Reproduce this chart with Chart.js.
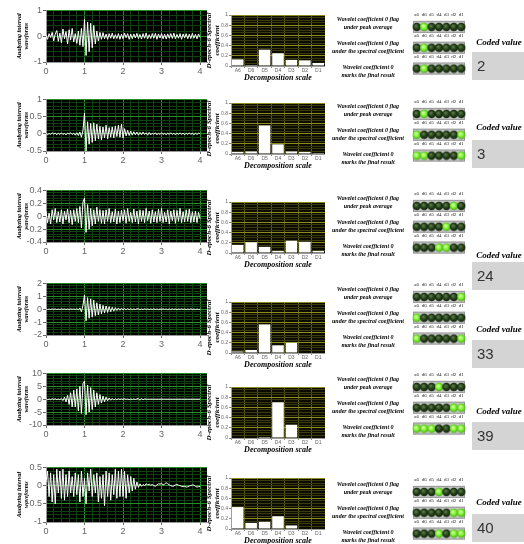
<!DOCTYPE html>
<html>
<head>
<meta charset="utf-8">
<script src="https://cdn.jsdelivr.net/npm/chart.js@4.4.1/dist/chart.umd.min.js"></script>
<style>
  body { margin: 0; background: #fff; width: 524px; height: 544px; overflow: hidden; position: relative; font-family: Arial, "Liberation Sans", sans-serif; }
  canvas { position: absolute; }
  .flag { position: absolute; left: 326px; width: 84px; text-align: center; font: italic bold 6px "Liberation Serif", serif; line-height: 8px; color: #000; white-space: nowrap; }
  .coded { position: absolute; left: 474px; width: 50px; text-align: center; font: italic bold 9px "Liberation Serif", serif; line-height: 10px; white-space: nowrap; }
  .box { position: absolute; left: 472px; width: 52px; height: 28px; background: #d4d4d4; font: 15px Arial, sans-serif; color: #333; line-height: 28px; padding-left: 5px; box-sizing: border-box; }
</style>
</head>
<body>
<script>
// waveform samples, one every 0.04 s from 0 to 4 s
const timeStep = 0.04;

const wave1 = [0.05,-0.12,0.1,-0.05,0.15,-0.18,0.08,0.22,-0.2,0.12,
  -0.25,0.28,-0.1,0.18,-0.3,0.25,-0.15,0.3,-0.22,0.1,
  -0.28,0.2,-0.35,0.3,-0.4,0.65,-0.75,0.55,-0.6,0.5,
  -0.45,0.42,-0.3,0.2,-0.18,0.15,-0.12,0.14,-0.1,0.08,
  -0.12,0.1,-0.08,0.12,-0.1,0.06,-0.09,0.1,-0.12,0.08,
  -0.1,0.12,-0.06,0.1,-0.12,0.08,-0.1,0.09,-0.07,0.11,
  -0.09,0.07,-0.11,0.1,-0.08,0.12,-0.1,0.06,-0.09,0.1,
  -0.08,0.11,-0.12,0.09,-0.07,0.1,-0.1,0.08,-0.11,0.09,
  -0.08,0.1,-0.09,0.12,-0.1,0.07,-0.08,0.1,-0.12,0.09,
  -0.07,0.1,-0.1,0.08,-0.09,0.11,-0.08,0.07,-0.1,0.09,-0.05];

const wave2 = [0.02,-0.03,0.01,-0.02,0.03,-0.01,0.02,-0.03,0.02,-0.02,
  0.03,-0.02,0.01,-0.03,0.02,-0.01,0.03,-0.02,0.02,-0.04,
  0.03,-0.05,0.05,-0.1,0.1,0.6,-0.5,0.35,-0.3,0.3,
  -0.25,0.32,-0.2,0.28,-0.15,0.22,-0.18,0.2,-0.12,0.25,
  -0.15,0.18,-0.1,0.2,-0.12,0.22,-0.08,0.25,-0.1,0.28,
  -0.12,0.15,-0.06,0.1,-0.05,0.08,-0.04,0.06,-0.03,0.05,
  -0.04,0.04,-0.03,0.05,-0.02,0.03,-0.04,0.04,-0.03,0.02,
  -0.02,0.03,-0.03,0.02,-0.02,0.03,-0.02,0.02,-0.03,0.02,
  -0.02,0.03,-0.02,0.02,-0.03,0.02,-0.02,0.03,-0.02,0.02,
  -0.03,0.02,-0.02,0.03,-0.02,0.02,-0.03,0.02,-0.02,0.02,0];

const wave3 = [0.08,-0.1,0.05,-0.12,0.1,-0.06,0.12,-0.1,0.07,-0.09,
  0.1,-0.12,0.08,-0.06,0.11,-0.1,0.09,-0.13,0.1,-0.08,
  0.12,-0.1,0.15,-0.18,0.22,0.28,-0.25,0.18,-0.2,0.12,
  -0.15,0.1,-0.12,0.14,-0.08,0.1,-0.11,0.09,-0.12,0.1,
  -0.08,0.12,-0.1,0.07,-0.09,0.11,-0.12,0.08,-0.1,0.09,
  -0.07,0.1,-0.11,0.12,-0.08,0.06,-0.1,0.11,-0.09,0.08,
  -0.12,0.1,-0.08,0.09,-0.1,0.12,-0.07,0.08,-0.11,0.1,
  -0.09,0.07,-0.1,0.11,-0.08,0.12,-0.1,0.06,-0.09,0.1,
  -0.12,0.08,-0.07,0.1,-0.11,0.09,-0.08,0.12,-0.1,0.07,
  -0.09,0.1,-0.08,0.11,-0.1,0.07,-0.09,0.08,-0.1,0.06,-0.04];

const wave4 = [0.02,-0.02,0.01,-0.02,0.02,-0.01,0.02,-0.02,0.01,-0.02,
  0.02,-0.01,0.02,-0.02,0.01,-0.02,0.02,-0.01,0.02,-0.02,
  0.03,-0.05,0.1,-0.2,0.3,1.1,-0.9,0.9,-0.7,0.8,
  -0.6,0.7,-0.5,0.5,-0.45,0.4,-0.35,0.3,-0.3,0.25,
  -0.25,0.2,-0.2,0.15,-0.15,0.12,-0.1,0.1,-0.08,0.08,
  -0.06,0.06,-0.05,0.05,-0.04,0.04,-0.04,0.03,-0.03,0.03,
  0.03,-0.03,0.02,-0.03,0.03,-0.02,0.02,-0.03,0.02,-0.02,
  0.03,-0.02,0.02,-0.03,0.02,-0.02,0.03,-0.02,0.02,-0.03,
  0.02,-0.02,0.03,-0.02,0.02,-0.03,0.02,-0.02,0.03,-0.02,
  0.02,-0.03,0.02,-0.02,0.03,-0.02,0.02,-0.03,0.02,-0.02,0];

const wave5 = [0.2,-0.2,0.1,-0.2,0.2,-0.1,0.2,-0.2,0.1,-0.2,
  0.3,-0.5,0.8,-1,1.5,-2,2.5,-3,3.5,-3,
  4,-4.5,5,-5.5,6,7,-6,5.5,-5,4.5,
  -4,3.5,-3,2.5,-2,1.8,-1.5,1.2,-1,0.8,
  -0.6,0.5,-0.4,0.3,-0.3,0.2,-0.2,0.2,-0.1,0.1,
  -0.1,0.2,-0.1,0.1,-0.2,0.1,-0.1,0.1,-0.1,0.1,
  0.3,-0.4,0.3,-0.2,0.1,0,0,0,0,0,
  0,0,0,0,0,0,0,0,0,0,
  0,0,0,0,0,0,0,0,0,0,
  0,0,0,0,0,0,0,0,0,0,0];

const wave6 = [0.1,0.4,-0.3,0.35,-0.45,0.3,-0.5,0.45,-0.2,0.4,
  -0.35,0.45,-0.4,0.3,-0.3,0.4,-0.2,0.25,-0.3,0.35,
  -0.25,0.3,-0.45,0.4,-0.3,0.2,-0.5,0.35,-0.15,0.45,
  -0.3,0.3,-0.2,0.35,-0.45,0.25,-0.35,0.3,-0.55,0.4,
  -0.3,0.35,-0.4,0.3,-0.25,0.45,-0.35,0.4,-0.3,0.45,
  -0.3,0.4,-0.35,0.3,-0.2,0.25,-0.15,0.2,-0.1,0.1,
  -0.05,0.05,-0.02,0.03,0,0.05,0.02,0.04,0.01,0.03,
  0,-0.02,0.02,0.05,0.04,0.06,0.02,0.04,0.08,0.05,
  0.02,0,-0.02,-0.01,0.02,0.03,0.01,0,-0.02,-0.03,
  -0.02,-0.04,-0.03,-0.01,0,0.02,0.01,-0.02,-0.04,-0.03,-0.02];

// y axis range and label step of each waveform panel
const waveMin = [-1, -0.5, -0.4, -2, -10, -1];
const waveMax = [1, 1, 0.4, 2, 10, 0.5];
const waveMajor = [1, 0.5, 0.2, 1, 5, 0.5];

// spectral coefficient per decomposition scale
const scaleLabels = ['A6', 'D6', 'D5', 'D4', 'D3', 'D2', 'D1'];
const spec1 = [0.13, 0.02, 0.32, 0.25, 0.12, 0.11, 0.06];
const spec2 = [0.04, 0.05, 0.56, 0.19, 0.05, 0.04, 0.02];
const spec3 = [0.16, 0.21, 0.12, 0.04, 0.24, 0.22, 0.04];
const spec4 = [0.03, 0.06, 0.56, 0.15, 0.20, 0.01, 0.00];
const spec5 = [0.01, 0.01, 0.02, 0.70, 0.26, 0.00, 0.00];
const spec6 = [0.43, 0.12, 0.14, 0.25, 0.07, 0.00, 0.00];

// LED flags (a6 d6 d5 d4 d3 d2 d1)
const ledLabels = ['a6', 'd6', 'd5', 'd4', 'd3', 'd2', 'd1'];
const peakFlags = [[0,1,0,0,0,0,0], [0,1,0,0,0,0,0], [0,0,0,0,0,1,0], [0,0,0,0,0,0,1], [0,0,0,1,0,0,0], [0,0,0,1,0,0,0]];
const specFlags = [[0,1,0,0,0,0,0], [1,0,0,0,0,0,1], [0,0,0,0,1,0,0], [1,0,0,0,0,0,0], [0,0,0,0,0,1,1], [0,0,0,0,0,1,1]];
const finalFlags = [[0,1,0,0,0,0,0], [1,1,0,0,0,0,1], [0,0,0,1,1,0,0], [1,0,0,0,0,0,1], [1,1,1,0,0,1,1], [0,0,0,1,0,1,1]];
const codedValues = [2, 3, 24, 33, 39, 40];

// layout per row
const waveTop = [10, 99, 190, 283, 373, 467];
const waveH = [52, 52, 52, 52, 52, 55];
const barTop = [15, 103, 202, 302, 387, 478];
const ledTop = [24, 111, 203, 294, 384, 489];
const codedY = [42, 127, 255, 329, 411, 502];
const boxTop = [52, 140, 262, 340, 422, 514];

const waves = [wave1, wave2, wave3, wave4, wave5, wave6];
const specs = [spec1, spec2, spec3, spec4, spec5, spec6];

function isMult(v, m) {
  return Math.abs(v / m - Math.round(v / m)) < 1e-6;
}

function addCanvas(x, y, w, h) {
  const c = document.createElement('canvas');
  c.width = w; c.height = h;
  c.style.left = x + 'px'; c.style.top = y + 'px';
  c.style.width = w + 'px'; c.style.height = h + 'px';
  document.body.appendChild(c);
  return c;
}

function addDiv(cls, x, y, html) {
  const d = document.createElement('div');
  d.className = cls;
  if (x !== null) d.style.left = x + 'px';
  d.style.top = y + 'px';
  d.innerHTML = html;
  document.body.appendChild(d);
  return d;
}

const plotBg = {
  id: 'plotBg',
  beforeDraw(chart, args, opts) {
    const a = chart.chartArea, ctx = chart.ctx;
    ctx.save();
    ctx.fillStyle = opts.color;
    ctx.fillRect(a.left, a.top, a.right - a.left, a.bottom - a.top);
    ctx.restore();
  }
};

const serifTitle = { family: '"Liberation Serif", "Times New Roman", serif', style: 'italic', weight: 'bold' };

function makeWave(r) {
  const top = waveTop[r], h = waveH[r];
  const cv = addCanvas(0, top - 6, 208, h + 24);
  const major = waveMajor[r];
  new Chart(cv, {
    type: 'line',
    data: {
      datasets: [{
        data: waves[r].map((v, i) => ({ x: i * timeStep, y: v })),
        borderColor: '#ffffff',
        borderWidth: 1,
        pointRadius: 0,
        tension: 0
      }]
    },
    options: {
      responsive: false, animation: false, events: [],
      layout: { padding: { top: 6, right: 1, left: 0, bottom: 0 } },
      plugins: { legend: { display: false }, tooltip: { enabled: false }, plotBg: { color: '#000' } },
      scales: {
        x: {
          type: 'linear', min: 0, max: 4.18,
          afterFit: s => { s.height = 18; },
          ticks: {
            stepSize: 0.2, includeBounds: false, autoSkip: false, maxRotation: 0,
            font: { size: 9 }, color: '#666', padding: 1,
            callback: v => isMult(v, 1) ? String(Math.round(v)) : ''
          },
          grid: {
            color: c => isMult(c.tick.value, 1) ? '#239023' : '#0e420e',
            tickColor: c => isMult(c.tick.value, 1) ? '#666' : 'rgba(0,0,0,0)',
            tickLength: 3
          },
          border: { color: '#999' }
        },
        y: {
          min: waveMin[r], max: waveMax[r],
          afterFit: s => { s.width = 46; },
          ticks: {
            stepSize: major / 5, autoSkip: false,
            font: { size: 9 }, color: '#666', padding: 1,
            callback: v => isMult(v, major) ? String(Number(v.toFixed(2))) : ''
          },
          grid: {
            color: c => isMult(c.tick.value, major) ? '#239023' : '#0e420e',
            tickColor: c => isMult(c.tick.value, major) ? '#666' : 'rgba(0,0,0,0)',
            tickLength: 3
          },
          border: { color: '#999' },
          title: {
            display: true, text: ['Analyzing interval', 'waveforms'], color: '#000',
            font: Object.assign({ size: 6, lineHeight: 1.2 }, serifTitle),
            padding: { top: 16, bottom: 0 }
          }
        }
      }
    },
    plugins: [plotBg]
  });
}

function makeBars(r) {
  const top = barTop[r];
  const cv = addCanvas(205, top - 6, 120, 6 + 51 + 16);
  new Chart(cv, {
    type: 'bar',
    data: {
      labels: scaleLabels,
      datasets: [{
        data: specs[r],
        backgroundColor: '#ffffff',
        borderWidth: 0,
        barPercentage: 0.86,
        categoryPercentage: 1
      }]
    },
    options: {
      responsive: false, animation: false, events: [],
      layout: { padding: { top: 6, right: 0, left: 0, bottom: 0 } },
      plugins: { legend: { display: false }, tooltip: { enabled: false }, plotBg: { color: '#0c0c00' } },
      scales: {
        x: {
          afterFit: s => { s.height = 16; },
          ticks: { font: { size: 5 }, color: '#666', padding: 0, maxRotation: 0, autoSkip: false },
          grid: { color: '#5c5c10', tickLength: 2, tickColor: '#888' },
          border: { color: '#999' },
          title: {
            display: true, text: 'Decomposition scale', color: '#000',
            font: Object.assign({ size: 8, lineHeight: 1.1 }, serifTitle),
            padding: { top: 0, bottom: 0 }
          }
        },
        y: {
          min: 0, max: 1,
          afterFit: s => { s.width = 26; },
          ticks: {
            stepSize: 0.05, autoSkip: false, font: { size: 5 }, color: '#666', padding: 1,
            callback: v => isMult(v, 0.2) ? String(Number(v.toFixed(1))) : ''
          },
          grid: {
            color: c => isMult(c.tick.value, 0.2) ? '#8c8c1c' : '#3a3a0c',
            tickColor: c => isMult(c.tick.value, 0.2) ? '#888' : 'rgba(0,0,0,0)',
            tickLength: 2
          },
          border: { color: '#999' },
          title: {
            display: true, text: ['D-epoch-6 Spectral', 'coefficient'], color: '#000',
            font: Object.assign({ size: 7, lineHeight: 1.05 }, serifTitle),
            padding: { top: 1, bottom: 0 }
          }
        }
      }
    },
    plugins: [plotBg]
  });
}

function makeLed(hi, mid, edge) {
  const c = document.createElement('canvas');
  c.width = 10; c.height = 10;
  const g = c.getContext('2d');
  const grad = g.createRadialGradient(4, 3.8, 0.3, 5, 5, 4.6);
  grad.addColorStop(0, hi);
  grad.addColorStop(0.55, mid);
  grad.addColorStop(1, edge);
  g.fillStyle = grad;
  g.beginPath();
  g.arc(5, 5, 4.2, 0, Math.PI * 2);
  g.fill();
  return c;
}
const ledOn = makeLed('#d8ffa8', '#78f02a', '#3c9a10');
const ledOff = makeLed('#5d7d4a', '#223f16', '#0b1806');

const ledPanel = {
  id: 'ledPanel',
  beforeDatasetsDraw(chart) {
    const ctx = chart.ctx, xs = chart.scales.x, ys = chart.scales.y;
    const x0 = xs.getPixelForValue(-0.5), x1 = xs.getPixelForValue(6.5);
    ctx.save();
    for (let j = 0; j < 3; j++) {
      const yc = ys.getPixelForValue(j);
      ctx.fillStyle = '#c6c6c6';
      ctx.fillRect(x0, yc - 6, x1 - x0, 12);
      ctx.strokeStyle = '#999';
      ctx.lineWidth = 1;
      ctx.strokeRect(x0 + 0.5, yc - 5.5, x1 - x0 - 1, 11);
      ctx.fillStyle = '#222';
      ctx.font = '5px "Liberation Serif", serif';
      ctx.textAlign = 'center';
      ctx.textBaseline = 'middle';
      ledLabels.forEach((t, k) => ctx.fillText(t, xs.getPixelForValue(k), yc - 12));
    }
    ctx.restore();
  }
};

function makeLeds(r) {
  const cv = addCanvas(408, ledTop[r] - 16, 62, 76);
  const rows = [peakFlags[r], specFlags[r], finalFlags[r]];
  const pts = [], styles = [];
  rows.forEach((row, j) => row.forEach((on, k) => {
    pts.push({ x: k, y: j });
    styles.push(on ? ledOn : ledOff);
  }));
  new Chart(cv, {
    type: 'scatter',
    data: { datasets: [{ data: pts, pointStyle: styles, pointRadius: 4, clip: false }] },
    options: {
      responsive: false, animation: false, events: [],
      layout: { padding: 0 },
      plugins: { legend: { display: false }, tooltip: { enabled: false } },
      scales: {
        x: { display: false, min: -0.5, max: 6.5 },
        y: { display: false, min: -2 / 3, max: 2.5, reverse: true }
      }
    },
    plugins: [ledPanel]
  });

  const y = ledTop[r];
  addDiv('flag', null, y - 9, 'Wavelet coefficient 0 flag<br>under peak average');
  addDiv('flag', null, y + 15, 'Wavelet coefficient 0 flag<br>under the spectral coefficient');
  addDiv('flag', null, y + 39, 'Wavelet coefficient 0<br>marks the final result');
  addDiv('coded', null, codedY[r] - 5, 'Coded value');
  addDiv('box', null, boxTop[r], String(codedValues[r]));
}

for (let r = 0; r < 6; r++) {
  makeWave(r);
  makeBars(r);
  makeLeds(r);
}
</script>
</body>
</html>
